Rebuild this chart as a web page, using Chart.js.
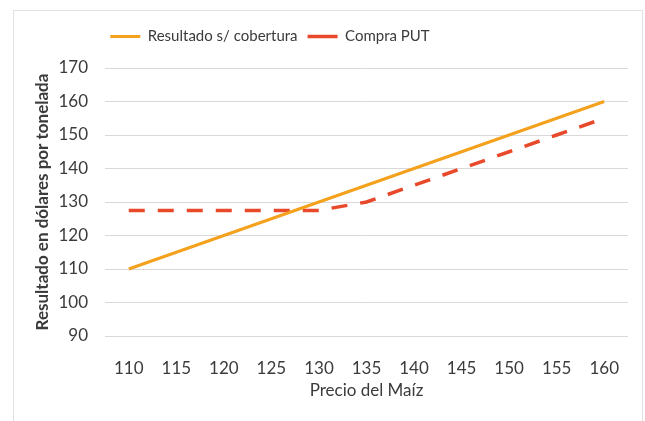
<!DOCTYPE html>
<html lang="es">
<head>
    <meta charset="UTF-8">
    <title>Resultado vs Precio del Maíz</title>
    <script src="https://cdn.jsdelivr.net/npm/chart.js"></script>
    <style>
        body {
            margin: 0;
            background: #ffffff;
        }
        .marco {
            position: absolute;
            left: 13px;
            top: 10px;
            width: 628px;
            height: 430px;
            border: 1px solid #e2e2e2;
        }
        .grafico {
            position: absolute;
            left: 0;
            top: 0;
            width: 645px;
            height: 421px;
        }
    </style>
</head>
<body>
    <div class="marco"></div>
    <div class="grafico">
        <canvas id="chart" width="645" height="421"></canvas>
    </div>

    <script>
        // Datos
        const precios = ['110', '115', '120', '125', '130', '135', '140', '145', '150', '155', '160'];
        const resultadoSinCobertura = [110, 115, 120, 125, 130, 135, 140, 145, 150, 155, 160];
        const compraPut = [127.5, 127.5, 127.5, 127.5, 127.5, 130, 135, 140, 145, 150, 155];
        const ejeY = { min: 90, max: 170, paso: 10 };

        const colorNaranja = '#F4A11D';
        const colorRojo = '#E8492A';
        const colorTexto = '#3b3b3b';

        // Ajustes de la leyenda (altura fija y centrada como el original)
        const ajusteLeyenda = {
            id: 'ajusteLeyenda',
            afterInit(chart) {
                const fit = chart.legend.fit;
                chart.legend.fit = function () {
                    fit.call(this);
                    this.height = 49;
                };
            },
            beforeDraw(chart) {
                chart.legend.left = 4;
                chart.legend.right = 536;
                chart.legend.width = 532;
            }
        };

        const ctx = document.getElementById('chart').getContext('2d');

        new Chart(ctx, {
            type: 'line',
            data: {
                labels: precios,
                datasets: [
                    {
                        label: 'Resultado s/ cobertura',
                        data: resultadoSinCobertura,
                        borderColor: colorNaranja,
                        backgroundColor: colorNaranja,
                        borderWidth: 3,
                        pointRadius: 0,
                        tension: 0
                    },
                    {
                        label: 'Compra PUT',
                        data: compraPut,
                        borderColor: colorRojo,
                        backgroundColor: 'transparent',
                        borderWidth: 3.5,
                        borderDash: [16, 13],
                        pointRadius: 0,
                        tension: 0
                    }
                ]
            },
            options: {
                responsive: false,
                animation: false,
                layout: {
                    padding: { top: 19, left: 0, right: 17, bottom: 0 }
                },
                plugins: {
                    legend: {
                        position: 'top',
                        labels: {
                            boxWidth: 30,
                            boxHeight: 0,
                            padding: 10,
                            color: colorTexto,
                            font: { family: 'Lato', size: 15 }
                        }
                    },
                    tooltip: { enabled: false }
                },
                scales: {
                    x: {
                        offset: true,
                        grid: { display: false },
                        border: { display: false },
                        ticks: {
                            padding: 14,
                            color: colorTexto,
                            font: { family: 'Lato', size: 17 }
                        },
                        title: {
                            display: true,
                            text: 'Precio del Maíz',
                            color: colorTexto,
                            font: { family: 'Lato', size: 17 },
                            padding: { top: 0, bottom: 20 }
                        },
                        afterFit(scale) { scale.height = 85; }
                    },
                    y: {
                        min: ejeY.min,
                        max: ejeY.max,
                        grid: {
                            color: '#d9d9d9',
                            lineWidth: 1,
                            drawTicks: false
                        },
                        border: { display: false },
                        ticks: {
                            stepSize: ejeY.paso,
                            padding: 17,
                            color: colorTexto,
                            font: { family: 'Lato', size: 17 }
                        },
                        title: {
                            display: true,
                            text: 'Resultado en dólares por tonelada',
                            color: colorTexto,
                            font: { family: 'Lato', size: 17, weight: 'bold' },
                            padding: { top: 32, bottom: 0 }
                        },
                        afterFit(scale) { scale.width = 105; }
                    }
                }
            },
            plugins: [ajusteLeyenda]
        });
    </script>
</body>
</html>
